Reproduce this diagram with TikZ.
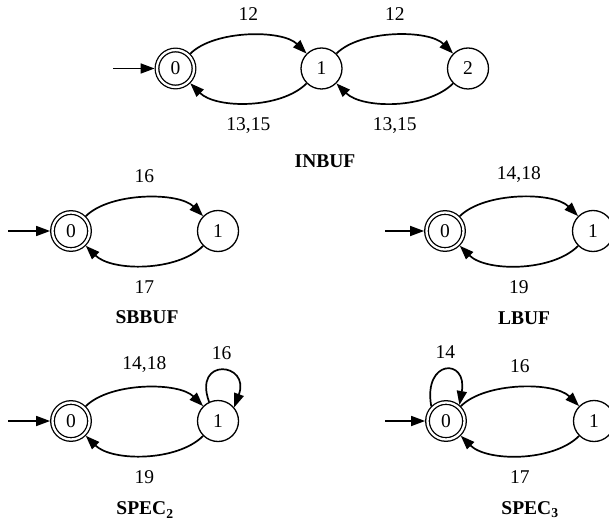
\documentclass[tikz,border=0pt]{standalone}
\usepackage{fontspec}
\setmainfont{Liberation Serif}
\usetikzlibrary{arrows.meta,positioning}

\begin{document}
\begin{tikzpicture}[x=1pt, y=1pt]
        \tikzstyle{state}=[circle, draw=black, line width=1.3pt, minimum size=41pt, inner sep=0pt, font=\fontsize{19.5}{22}\selectfont];
        \tikzstyle{accept}=[state, minimum size=37pt, double, double distance=2.3pt, outer sep=2.4pt];
        \tikzstyle{move}=[line width=1.7pt, -{Triangle[length=14pt, width=10pt]}];
        \tikzstyle{lbl}=[font=\fontsize{19.5}{22}\selectfont];
        \tikzstyle{title}=[font=\fontsize{19.5}{22}\selectfont\bfseries];

        \useasboundingbox (0, 0) rectangle (609, -526);

        % INBUF
        \node[accept] (in0) at (175.5, -68.5) {0};
        \node[state] (in1) at (321.5, -68.5) {1};
        \node[state] (in2) at (468, -68.5) {2};
        \coordinate (inS) at (113, -68.5);
        \draw[move] (inS) -- (in0);
        \draw (in0) edge[move, out=45, in=135, looseness=0.75] node[lbl, above=11pt] {12} (in1);
        \draw (in1) edge[move, out=-135, in=-45, looseness=0.8] node[lbl, below=11pt] {13,15} (in0);
        \draw (in1) edge[move, out=45, in=135, looseness=0.75] node[lbl, above=11pt] {12} (in2);
        \draw (in2) edge[move, out=-135, in=-45, looseness=0.8] node[lbl, below=11pt] {13,15} (in1);
        \node[title] (tIn) at (325, -161) {INBUF};

        % SBBUF
        \node[accept] (sb0) at (71, -231) {0};
        \node[state] (sb1) at (218, -231) {1};
        \coordinate (sbS) at (8, -231);
        \draw[move] (sbS) -- (sb0);
        \draw (sb0) edge[move, out=45, in=135, looseness=0.75] node[lbl, above=11pt] {16} (sb1);
        \draw (sb1) edge[move, out=-135, in=-45, looseness=0.8] node[lbl, below=11pt] {17} (sb0);
        \node[title] (tSb) at (147, -317) {SBBUF};

        % LBUF
        \node[accept] (lb0) at (445, -231) {0};
        \node[state] (lb1) at (593, -231) {1};
        \coordinate (lbS) at (385, -231);
        \draw[move] (lbS) -- (lb0);
        \draw (lb0) edge[move, out=45, in=135, looseness=0.75] node[lbl, above=11pt] {14,18} (lb1);
        \draw (lb1) edge[move, out=-135, in=-45, looseness=0.8] node[lbl, below=11pt] {19} (lb0);
        \node[title] (tLb) at (524, -318) {LBUF};

        % SPEC2
        \node[accept] (sa0) at (71, -421) {0};
        \node[state] (sa1) at (218, -421) {1};
        \coordinate (saS) at (8, -421);
        \draw[move] (saS) -- (sa0);
        \draw (sa0) edge[move, out=45, in=135, looseness=0.75] node[lbl, above=11pt] {14,18} (sa1);
        \draw (sa1) edge[move, out=-135, in=-45, looseness=0.8] node[lbl, below=11pt] {19} (sa0);
        \draw[move] (sa1.115) .. controls +(110:48) and +(70:48) .. (sa1.40) node[lbl, pos=0.5, above=7pt] {16};
        \node[title] (tSa) at (145, -510) {SPEC\textsubscript{2}};

        % SPEC3
        \node[accept] (sc0) at (446, -421) {0};
        \node[state] (sc1) at (594, -421) {1};
        \coordinate (scS) at (385, -421);
        \draw[move] (scS) -- (sc0);
        \draw (sc0) edge[move, out=45, in=135, looseness=0.75] node[lbl, above=11pt] {16} (sc1);
        \draw (sc1) edge[move, out=-135, in=-45, looseness=0.8] node[lbl, below=11pt] {17} (sc0);
        \draw[move] (sc0.135) .. controls +(100:48) and +(80:48) .. (sc0.50) node[lbl, pos=0.5, above=7pt] {14};
        \node[title] (tSc) at (530, -510) {SPEC\textsubscript{3}};
\end{tikzpicture}
\end{document}
